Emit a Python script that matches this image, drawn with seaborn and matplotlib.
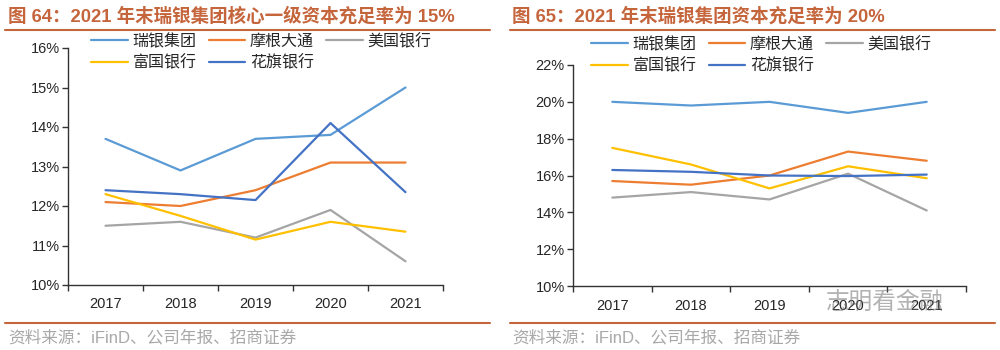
import numpy as np
import pandas as pd
import matplotlib.pyplot as plt
import seaborn as sns

# ==========================================
# Data
# ==========================================

years = ["2017", "2018", "2019", "2020", "2021"]
banks = ["瑞银集团", "摩根大通", "美国银行", "富国银行", "花旗银行"]

# core tier 1 ratio (%)
cet1_ubs = [13.7, 12.9, 13.7, 13.8, 15.0]
cet1_jpm = [12.1, 12.0, 12.4, 13.1, 13.1]
cet1_bac = [11.5, 11.6, 11.2, 11.9, 10.6]
cet1_wfc = [12.3, 11.75, 11.15, 11.6, 11.35]
cet1_citi = [12.4, 12.3, 12.15, 14.1, 12.35]

# total capital ratio (%)
tcr_ubs = [20.0, 19.8, 20.0, 19.4, 20.0]
tcr_jpm = [15.7, 15.5, 16.0, 17.3, 16.8]
tcr_bac = [14.8, 15.1, 14.7, 16.1, 14.1]
tcr_wfc = [17.5, 16.6, 15.3, 16.5, 15.85]
tcr_citi = [16.3, 16.2, 16.0, 15.97, 16.05]

colors = ["#5B9BD5", "#ED7D31", "#A5A5A5", "#FFC000", "#4472C4"]
palette = dict(zip(banks, colors))
title_color = "#C5653C"

# legend is filled column by column: row 1 = first three banks, row 2 = last two
legend_order = ["瑞银集团", "富国银行", "摩根大通", "花旗银行", "美国银行"]


def to_long(series_list):
    frames = []
    for bank, vals in zip(banks, series_list):
        frames.append(pd.DataFrame({"year": years, "bank": bank, "value": vals}))
    return pd.concat(frames, ignore_index=True)


df_left = to_long([cet1_ubs, cet1_jpm, cet1_bac, cet1_wfc, cet1_citi])
df_right = to_long([tcr_ubs, tcr_jpm, tcr_bac, tcr_wfc, tcr_citi])

# ==========================================
# Figure
# ==========================================

sns.set_theme(style="white")
plt.rcParams["font.family"] = ["Liberation Sans", "Noto Sans CJK SC", "DejaVu Sans"]

fig = plt.figure(figsize=(10, 3.5), dpi=100)
W, H = 1000, 350


def fx(px):
    return px / W


def fy(py):
    return 1 - py / H


def draw_panel(df, rect, ylim, yticks, legend_xy):
    ax = fig.add_axes(rect)
    sns.lineplot(data=df, x="year", y="value", hue="bank", palette=palette,
                 linewidth=1.6, ax=ax, sort=False)
    ax.set_xlim(-0.5, len(years) - 0.5)
    ax.set_ylim(*ylim)
    ax.set_yticks(yticks)
    ax.set_yticklabels([f"{t}%" for t in yticks], fontsize=10.5)
    ax.set_xticks(range(len(years)))
    ax.set_xticklabels(years, fontsize=10.5)
    ax.set_xticks(np.arange(-0.5, len(years), 1), minor=True)
    ax.tick_params(axis="x", which="major", length=0, pad=9)
    ax.tick_params(axis="x", which="minor", length=4, width=1, direction="out",
                   color="#333333", bottom=True)
    ax.tick_params(axis="y", length=4, width=1, direction="out", color="#333333",
                   left=True, pad=2)
    ax.set_xlabel("")
    ax.set_ylabel("")
    for s in ["top", "right"]:
        ax.spines[s].set_visible(False)
    for s in ["left", "bottom"]:
        ax.spines[s].set_color("#333333")
        ax.spines[s].set_linewidth(1.0)
    ax.legend_.remove()
    handles, labels = ax.get_legend_handles_labels()
    lookup = dict(zip(labels, handles))
    fig.legend([lookup[b] for b in legend_order], legend_order, loc="upper left",
               bbox_to_anchor=(fx(legend_xy[0]), fy(legend_xy[1])),
               ncol=3, frameon=False, handlelength=2.3,
               handletextpad=0.3, columnspacing=0.75, labelspacing=0.3,
               borderaxespad=0, borderpad=0,
               prop={"family": ["Noto Sans CJK SC"], "size": 11.5})
    return ax


ax1 = draw_panel(df_left, [fx(68), fy(285), fx(443 - 68), (285 - 48) / H],
                 (10, 16), list(range(10, 17)), (91, 33))
ax2 = draw_panel(df_right, [fx(573), fy(286), fx(966 - 573), (286 - 65) / H],
                 (10, 22), list(range(10, 23, 2)), (591, 36))

# titles and rules
fig.text(fx(8), fy(16), "图 64：2021 年末瑞银集团核心一级资本充足率为 15%",
         fontsize=13.3, fontweight="bold", color=title_color, va="center",
         family=["Liberation Sans", "Noto Sans CJK SC"])
fig.text(fx(512), fy(16), "图 65：2021 年末瑞银集团资本充足率为 20%",
         fontsize=13.3, fontweight="bold", color=title_color, va="center",
         family=["Liberation Sans", "Noto Sans CJK SC"])
for x0, x1 in [(5, 490), (510, 995)]:
    fig.add_artist(plt.Line2D([fx(x0), fx(x1)], [fy(30), fy(30)], color=title_color, lw=1.5))
    fig.add_artist(plt.Line2D([fx(x0), fx(x1)], [fy(323), fy(323)], color=title_color, lw=1.5))

for x0 in [8, 512]:
    fig.text(fx(x0), fy(338), "资料来源：iFinD、公司年报、招商证券", fontsize=12,
             color="#A8A8A8", va="center", family=["Liberation Sans", "Noto Sans CJK SC"])

# watermark
fig.text(fx(826), fy(302), "志明看金融", fontsize=17, color="#666666", alpha=0.5,
         va="center", family=["Noto Sans CJK SC"])

plt.savefig("out.png", dpi=100)
